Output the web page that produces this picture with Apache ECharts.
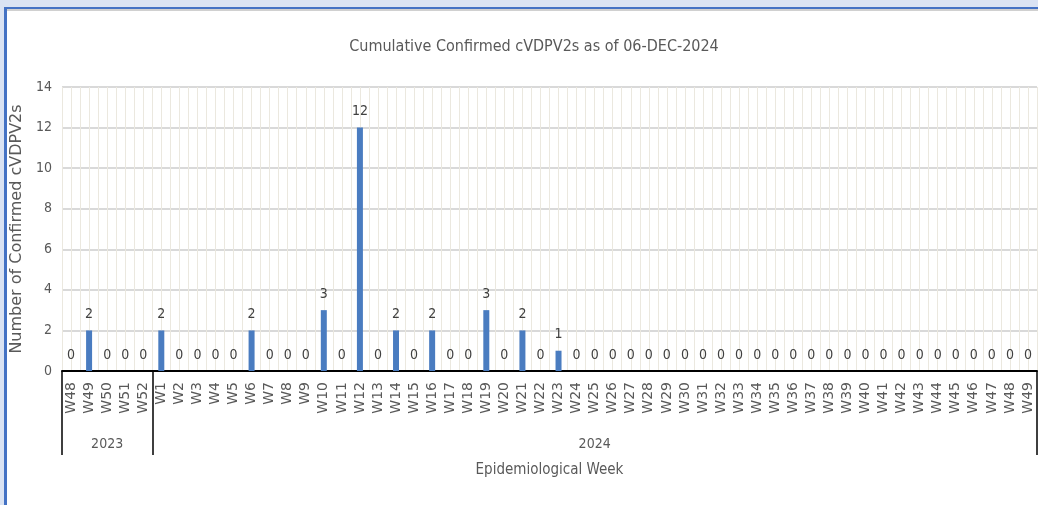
<!DOCTYPE html>
<html>
<head>
<meta charset="utf-8">
<script src="https://cdn.jsdelivr.net/npm/echarts@6/dist/echarts.min.js"></script>
<style>
  html, body { margin: 0; padding: 0; width: 1038px; height: 505px; overflow: hidden; background: #dae3f3; }
  #frame { position: absolute; left: 4px; top: 7px; width: 1040px; height: 505px; background: #fff;
           border-left: 3px solid #4472c4; border-top: 2px solid #4472c4; box-sizing: border-box; }
  #frame .inner { position: absolute; left: 0; top: 0; right: 0; height: 2px; background: #d0d0d0; }
  #c { position: absolute; left: 0; top: 0; width: 1038px; height: 505px; }
</style>
</head>
<body>
<div id="frame"><div class="inner"></div></div>
<div id="c"></div>
<script>
const titleText = 'Cumulative Confirmed cVDPV2s as of 06-DEC-2024';
const yAxisTitle = 'Number of Confirmed cVDPV2s';
const xAxisTitle = 'Epidemiological Week';
const weeks2023 = ['W48','W49','W50','W51','W52'];
const weeks2024 = ['W1','W2','W3','W4','W5','W6','W7','W8','W9','W10','W11','W12','W13','W14','W15','W16','W17','W18','W19','W20','W21','W22','W23','W24','W25','W26','W27','W28','W29','W30','W31','W32','W33','W34','W35','W36','W37','W38','W39','W40','W41','W42','W43','W44','W45','W46','W47','W48','W49'];
const years = ['2023', '2024'];
const values2023 = [0,2,0,0,0];
const values2024 = [2,0,0,0,0,2,0,0,0,3,0,12,0,2,0,2,0,0,3,0,2,0,1,0,0,0,0,0,0,0,0,0,0,0,0,0,0,0,0,0,0,0,0,0,0,0,0,0,0];
const yTicks = [0,2,4,6,8,10,12,14];

const categories = weeks2023.concat(weeks2024);
const values = values2023.concat(values2024);
const n = categories.length;
const groupSizes = [weeks2023.length, weeks2024.length];
const boundaries = [0, groupSizes[0], n];
const yearCenters = [groupSizes[0] / 2, groupSizes[0] + groupSizes[1] / 2];

const narrow = "'DejaVu Sans Condensed', 'Liberation Sans Narrow', 'Open Sans', sans-serif";
const chart = echarts.init(document.getElementById('c'));
chart.setOption({
  backgroundColor: 'transparent',
  animation: false,
  title: {
    text: titleText, left: 529, top: 34, textAlign: 'center',
    textStyle: { fontFamily: narrow, fontSize: 16, fontWeight: 'normal', color: '#595959' }
  },
  grid: { left: 62, right: 1, top: 87, bottom: 134, containLabel: false },
  xAxis: [
    {
      type: 'category', data: categories, position: 'bottom',
      axisLine: { show: true, lineStyle: { color: '#000', width: 2 } },
      axisTick: { show: false },
      splitLine: { show: false },
      axisLabel: { rotate: 90, margin: 11, fontFamily: 'DejaVu Sans', fontSize: 14, color: '#595959', interval: 0 }
    },
    {
      type: 'value', min: 0, max: 2 * n, interval: 1, position: 'top', show: true,
      axisLine: { show: false }, axisTick: { show: false }, axisLabel: { show: false },
      splitLine: { show: true, lineStyle: { color: '#ebe8df', width: 1 } }
    },
    {
      type: 'value', min: 0, max: n, position: 'bottom',
      axisLine: { show: false },
      splitLine: { show: false },
      axisTick: { show: true, customValues: boundaries, length: 84, lineStyle: { color: '#000', width: 1.5 } },
      axisLabel: {
        show: true, customValues: yearCenters, margin: 66,
        formatter: function (v) { return v < groupSizes[0] ? years[0] : years[1]; },
        fontFamily: narrow, fontSize: 14, color: '#595959'
      },
      name: xAxisTitle, nameLocation: 'middle', nameGap: 92,
      nameTextStyle: { fontFamily: narrow, fontSize: 15, color: '#595959' }
    }
  ],
  yAxis: {
    type: 'value', min: 0, max: 14, interval: 2,
    axisLine: { show: false }, axisTick: { show: false },
    axisLabel: { fontFamily: narrow, fontSize: 14, color: '#595959', margin: 10,
                 customValues: yTicks },
    splitLine: { show: true, lineStyle: { color: '#d9d9d9', width: 2 } },
    name: yAxisTitle, nameLocation: 'middle', nameGap: 14, nameRotate: 90,
    nameTextStyle: { fontFamily: 'DejaVu Sans', fontSize: 16, color: '#595959' }
  },
  series: [{
    type: 'bar', xAxisIndex: 0, yAxisIndex: 0,
    data: values, barWidth: 6,
    itemStyle: { color: '#4a7cc0' },
    label: { show: true, position: 'top', distance: 9, fontFamily: narrow, fontSize: 14, color: '#404040' },
    z: 3
  }]
});
</script>
</body>
</html>
